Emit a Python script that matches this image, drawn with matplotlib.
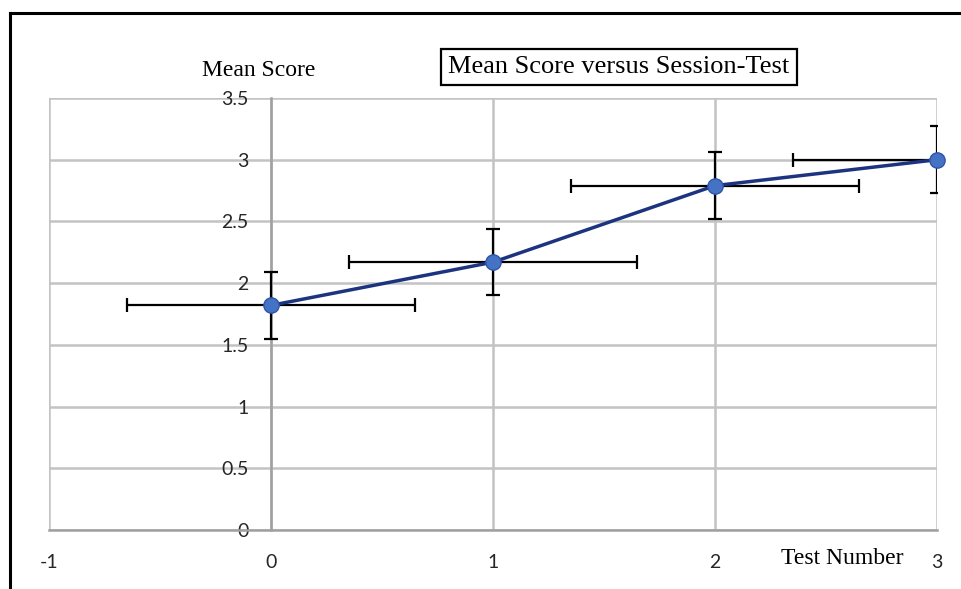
import matplotlib
matplotlib.use("Agg")
import matplotlib.pyplot as plt
from matplotlib.lines import Line2D

plt.rcParams["axes.unicode_minus"] = False

# Mean score per test, with spread in score (y) and session timing (x)
test_number = [0, 1, 2, 3]
mean_score = [1.82, 2.17, 2.79, 3.00]
score_err = [0.27, 0.27, 0.27, 0.27]
test_err = [0.65, 0.65, 0.65, 0.65]

x_ticks = [-1, 0, 1, 2, 3]
y_ticks = [0, 0.5, 1, 1.5, 2, 2.5, 3, 3.5]
y_tick_labels = ["0", "0.5", "1", "1.5", "2", "2.5", "3", "3.5"]

title = "Mean Score versus Session-Test"
y_title = "Mean Score"
x_title = "Test Number"

grid_col = "#c3c3c3"
axis_col = "#a0a0a0"
tick_col = "#262626"
serif = "Liberation Serif"
sans = "Lato"

fig = plt.figure(figsize=(9.62, 5.89), dpi=100)
ax = fig.add_axes([49 / 962, 1 - 530 / 589, (937 - 49) / 962, (530 - 98) / 589])

ax.set_xlim(-1, 3)
ax.set_ylim(0, 3.5)
ax.set_xticks(x_ticks)
ax.set_yticks(y_ticks)
ax.set_yticklabels(y_tick_labels)

ax.grid(True, color=grid_col, linewidth=1.8)
ax.set_axisbelow(True)
for side in ("top", "right"):
    ax.spines[side].set_visible(False)
ax.spines["left"].set_position(("data", 0))
ax.spines["left"].set_color(axis_col)
ax.spines["left"].set_linewidth(1.8)
ax.spines["bottom"].set_color(axis_col)
ax.spines["bottom"].set_linewidth(1.8)

ax.tick_params(axis="both", length=0, labelsize=14, labelcolor=tick_col)
ax.tick_params(axis="y", pad=16)
ax.tick_params(axis="x", pad=17)
for lab in ax.get_xticklabels() + ax.get_yticklabels():
    lab.set_fontfamily(sans)

# error bars (clipped at the plot edge) under the series line
ax.errorbar(test_number, mean_score, yerr=score_err, xerr=test_err,
            fmt="none", ecolor="black", elinewidth=1.6, capsize=5,
            capthick=1.6, zorder=3)
ax.plot(test_number, mean_score, color="#1c3480", linewidth=2.5,
        marker="o", markersize=11, markerfacecolor="#4472c4",
        markeredgecolor="#2f55a4", markeredgewidth=1.0,
        zorder=4, clip_on=False)

fig.text(259 / 962, 1 - 70 / 589, y_title, family=serif, fontsize=17,
         ha="center", va="center", color="black")
fig.text(842 / 962, 1 - 558 / 589, x_title, family=serif, fontsize=17,
         ha="center", va="center", color="black")
fig.text(619 / 962, 1 - 67 / 589, title, family=serif, fontsize=19,
         ha="center", va="center", color="black",
         bbox=dict(boxstyle="square,pad=0.28", facecolor="white",
                   edgecolor="black", linewidth=1.6))

# outer frame, top and left edges
fig.add_artist(Line2D([10 / 962, 10 / 962], [0, 1 - 13 / 589],
                      transform=fig.transFigure, color="black", linewidth=2.2))
fig.add_artist(Line2D([10 / 962, 1], [1 - 13 / 589, 1 - 13 / 589],
                      transform=fig.transFigure, color="black", linewidth=2.2))

fig.savefig("out.png", dpi=100)
